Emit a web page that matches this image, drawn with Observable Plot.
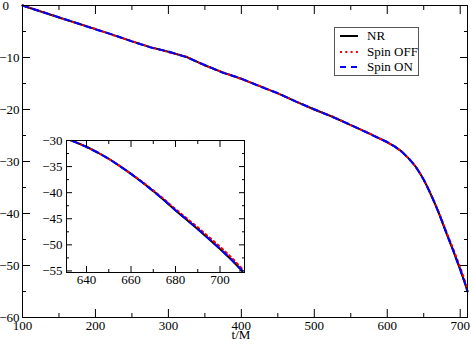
<!DOCTYPE html>
<html><head><meta charset="utf-8">
<style>
body{margin:0;background:#fff;}
#wrap{position:relative;width:471px;height:345px;font-family:'Liberation Serif',serif;}
#wrap svg.plt{position:absolute;}
#wrap svg.plt text{font-family:'Liberation Serif',serif;font-size:13px;}
#legend{position:absolute;left:334px;top:27px;width:83px;height:47px;border:1px solid #555;background:#fff;font-family:'Liberation Serif',serif;font-size:13px;color:#000;}
#legend .row{position:absolute;left:0;height:14px;line-height:14px;}
#legend .row svg{position:absolute;left:5px;top:5px;}
#legend .row span{position:absolute;left:32px;top:0;white-space:nowrap;}
</style></head><body>
<div id="wrap"></div>
<script src="https://cdn.jsdelivr.net/npm/d3@7"></script>
<script src="https://cdn.jsdelivr.net/npm/@observablehq/plot@0.6"></script>
<script>
// ---- data ----
const t = [100,125,150,175,200,225,250,275,300,325,350,375,400,425,450,475,500,525,550,575,600,610,620,630,635,640,645,650,655,660,665,670,675,680,685,690,695,700,705,710];
const nr = [0,-1.15,-2.3,-3.4,-4.55,-5.7,-6.9,-8.0,-8.9,-9.9,-11.5,-12.9,-14.1,-15.5,-16.9,-18.5,-20.0,-21.4,-23.0,-24.6,-26.3,-27.1,-28.1,-29.5,-30.3,-31.2,-32.3,-33.5,-34.9,-36.4,-38.0,-39.7,-41.5,-43.4,-45.2,-47.0,-48.9,-50.8,-52.8,-55.0];
const spinOff = [0,-1.1,-2.3,-3.45,-4.5,-5.75,-6.85,-8.0,-8.95,-9.85,-11.55,-12.85,-14.15,-15.45,-16.9,-18.45,-20.05,-21.35,-23.0,-24.55,-26.3,-27.1,-28.1,-29.5,-30.3,-31.2,-32.3,-33.5,-34.9,-36.35,-37.9,-39.55,-41.3,-43.15,-44.9,-46.65,-48.5,-50.35,-52.35,-54.6];
const spinOn = [0,-1.15,-2.25,-3.4,-4.6,-5.65,-6.9,-8.05,-8.85,-9.95,-11.45,-12.95,-14.05,-15.55,-16.85,-18.5,-19.95,-21.45,-22.95,-24.65,-26.25,-27.1,-28.15,-29.5,-30.3,-31.25,-32.3,-33.5,-34.9,-36.4,-38.0,-39.7,-41.45,-43.35,-45.15,-46.95,-48.85,-50.75,-52.75,-54.95];
const seriesNames = ["NR","Spin OFF","Spin ON"];
const xMajor = [100,200,300,400,500,600,700];
const xMinor = [150,250,350,450,550,650];
const yMajor = [0,-10,-20,-30,-40,-50,-60];
const yMinor = [-5,-15,-25,-35,-45,-55];
const inXMajor = [640,660,680,700];
const inXMinor = [650,670,690];
const inYMajor = [-30,-35,-40,-45,-50,-55];
const inYMinor = [-32.5,-37.5,-42.5,-47.5,-52.5];
const xLabel = "t/M";

const rows = (vals) => t.map((tt, i) => ({t: tt, v: vals[i]}));
const dNR = rows(nr), dOff = rows(spinOff), dOn = rows(spinOn);

const styleOf = {
  "NR": {stroke: "#000000", strokeWidth: 2},
  "Spin OFF": {stroke: "#ff0000", strokeWidth: 2, strokeDasharray: "2,3.3"},
  "Spin ON": {stroke: "#0000ff", strokeWidth: 2, strokeDasharray: "6,5"}
};

function ticks(xMaj, xMin, yMaj, yMin, maj, min) {
  const blank = () => "";
  const o = {tickFormat: blank, label: null};
  return [
    Plot.axisX({...o, anchor: "bottom", ticks: xMaj, tickSize: maj, dy: -maj}),
    Plot.axisX({...o, anchor: "bottom", ticks: xMin, tickSize: min, dy: -min}),
    Plot.axisX({...o, anchor: "top", ticks: xMaj, tickSize: maj, dy: maj}),
    Plot.axisX({...o, anchor: "top", ticks: xMin, tickSize: min, dy: min}),
    Plot.axisY({...o, anchor: "left", ticks: yMaj, tickSize: maj, dx: maj}),
    Plot.axisY({...o, anchor: "left", ticks: yMin, tickSize: min, dx: min}),
    Plot.axisY({...o, anchor: "right", ticks: yMaj, tickSize: maj, dx: -maj}),
    Plot.axisY({...o, anchor: "right", ticks: yMin, tickSize: min, dx: -min})
  ];
}
const lines = (clip) => [
  Plot.line(dNR, {x: "t", y: "v", ...styleOf["NR"], clip}),
  Plot.line(dOff, {x: "t", y: "v", ...styleOf["Spin OFF"], clip}),
  Plot.line(dOn, {x: "t", y: "v", ...styleOf["Spin ON"], clip})
];
const fontStyle = "font-family:'Liberation Serif',serif;font-size:13px;background:transparent;overflow:visible;color:#000;";

const main = Plot.plot({
  width: 471, height: 345,
  marginLeft: 22, marginRight: 4, marginTop: 5, marginBottom: 28,
  style: fontStyle,
  x: {domain: [100, 710], label: null},
  y: {domain: [-60, 0], label: null},
  marks: [
    ...lines(false),
    Plot.frame({stroke: "#000", strokeWidth: 1}),
    ...ticks(xMajor, xMinor, yMajor, yMinor, 8, 4),
    Plot.axisX({anchor: "bottom", ticks: xMajor, tickSize: 0, tickPadding: 3, label: null}),
    Plot.axisY({anchor: "left", ticks: yMajor.filter(d => d !== 0), tickSize: 0, tickPadding: 3, label: null}),
    Plot.axisY({anchor: "left", ticks: [0], tickSize: 0, tickPadding: 20, textAnchor: "start", label: null}),
    Plot.text([xLabel], {frameAnchor: "bottom", dy: 21, dx: -4, fontSize: 13})
  ]
});
main.classList.add("plt");
main.style.left = "0px"; main.style.top = "0px";

const inset = Plot.plot({
  width: 222, height: 158,
  marginLeft: 40, marginRight: 4, marginTop: 6, marginBottom: 20,
  style: fontStyle,
  x: {domain: [631, 711], label: null},
  y: {domain: [-55.3, -30], label: null},
  marks: [
    Plot.frame({fill: "#fff"}),
    ...lines(true),
    Plot.frame({stroke: "#000", strokeWidth: 1}),
    ...ticks(inXMajor, inXMinor, inYMajor, inYMinor, 6, 3),
    Plot.axisX({anchor: "bottom", ticks: inXMajor, tickSize: 0, tickPadding: 2, label: null}),
    Plot.axisY({anchor: "left", ticks: inYMajor, tickSize: 0, tickPadding: 4, label: null})
  ]
});
inset.classList.add("plt");
inset.style.left = "26px"; inset.style.top = "134px";

const wrap = document.getElementById("wrap");
wrap.appendChild(main);
wrap.appendChild(inset);

// legend
const leg = document.createElement("div");
leg.id = "legend";
seriesNames.forEach((name, i) => {
  const r = document.createElement("div");
  r.className = "row";
  r.style.top = (1 + i * 15.5) + "px";
  const s = styleOf[name];
  r.innerHTML = `<svg width="20" height="4"><line x1="0" y1="2" x2="18" y2="2" stroke="${s.stroke}" stroke-width="2" ${s.strokeDasharray ? `stroke-dasharray="${s.strokeDasharray}"` : ""}/></svg><span>${name}</span>`;
  leg.appendChild(r);
});
wrap.appendChild(leg);
</script></body></html>
